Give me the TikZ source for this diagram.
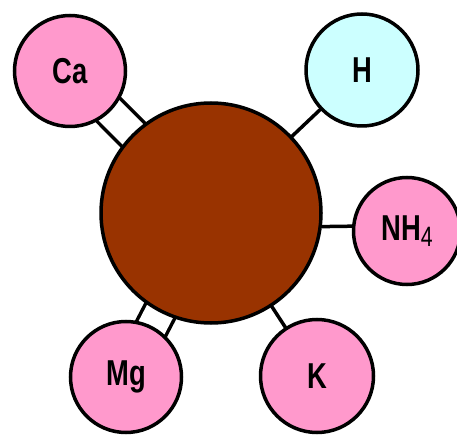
\documentclass[tikz,border=0pt]{standalone}
\usepackage{fontspec}
\setmainfont{Liberation Sans}[FakeStretch=0.76]
\usepackage{tikz}
\usetikzlibrary{backgrounds}
\usepackage{xcolor}
\definecolor{soilbrown}{HTML}{993300}
\definecolor{ionpink}{HTML}{FF99CC}
\definecolor{ioncyan}{HTML}{CCFFFF}

\begin{document}
\begin{tikzpicture}[
  x=1pt, y=-1pt,
  soilball/.style = {
    circle, draw=black, fill=soilbrown, line width=3.5pt,
    minimum size=220pt, inner sep=0pt
  },
  ionball/.style = {
    circle, draw=black, fill=ionpink, line width=3.5pt,
    inner sep=0pt, font=\fontsize{36}{36}\selectfont\bfseries
  },
  bond/.style  = {draw=black, line width=3.5pt},
  dbond/.style = {draw=black, line width=3.5pt, double=white, double distance=29pt},
]
\useasboundingbox (0,0) rectangle (457,435);

%% ---- Soil particle ----
\node[soilball] (soil) at (211,213) {};

%% ---- Ions ----
\node[ionball, minimum size=111pt] (ca) at (70,71)   {Ca};
\node[ionball, minimum size=112pt, fill=ioncyan] (h) at (362,70) {H};
\node[ionball, minimum size=107pt] (nh) at (407,231) {NH\raisebox{-6pt}{\fontsize{28}{28}\selectfont\mdseries 4}};
\node[ionball, minimum size=111pt] (mg) at (126,377) {Mg};
\node[ionball, minimum size=113pt] (k)  at (317,376) {K};

%% ---- Bonds ----
\begin{scope}[on background layer]
  \draw[dbond] (ca.center) -- (soil.center);
  \draw[dbond] (mg.center) -- (soil.center);
  \draw[bond]  (h.center)  -- (soil.center);
  \draw[bond]  (k.center)  -- (soil.center);
  \draw[bond]  (soil.-7)   -- (nh.175);
\end{scope}

\end{tikzpicture}
\end{document}
